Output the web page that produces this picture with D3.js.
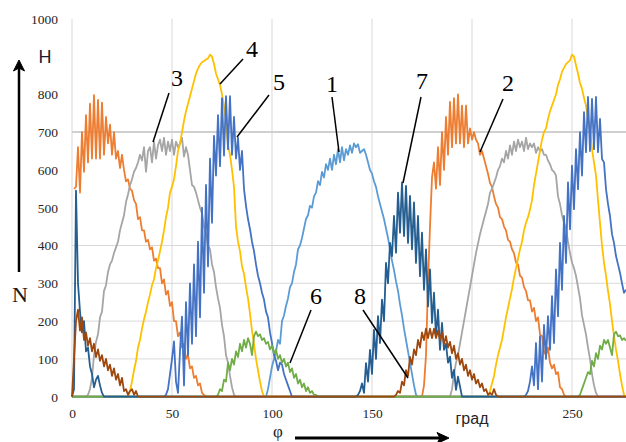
<!DOCTYPE html>
<html><head><meta charset="utf-8">
<script src="https://cdn.jsdelivr.net/npm/d3@7"></script>
<style>body{margin:0;background:#fff}svg{display:block}</style>
</head><body>
<svg id="c" width="626" height="442"></svg>
<script>
// ---------- data (x in degrees, each segment = [start degree, values at 1° steps]) ----------
const X_MAX = 277;
const yTicks = [0,100,200,300,400,500,600,700,800,1000];
const xTicks = [0,50,100,150,250];
const xUnitLabel = "град";
const seriesNames = ["1","2","3","4","5","6","7","8"];
const seriesColors = ["#5B9BD5","#ED7D31","#A5A5A5","#FFC000","#4472C4","#70AD47","#255E91","#9E480E"];

const s1 = [[97,[0,20,50,80,100,120,150,140,200,215,240,260,290,300,330,350,390,400,420,445,470,480,505,500,530,540,570,560,595,580,615,600,630,600,640,615,655,620,660,625,655,640,665,645,670,660,668,645,650,655,640,620,600,590,570,555,530,510,490,470,445,420,390,360,335,305,280,245,215,180,150,120,90,60,30,5,0]]];
const s2 = [[0,[null,550,555,660,540,700,595,745,620,775,630,798,630,785,630,778,640,740,670,720,640,700,630,650,605,640,600,570,575,550,545,520,510,470,475,440,440,410,415,390,395,360,365,340,340,300,310,270,280,240,250,200,200,160,170,130,140,100,110,75,80,50,55,30,35,10,5,0]],
            [175,[0,30,110,300,450,580,620,550,660,560,700,600,740,640,780,660,790,670,800,670,770,660,770,670,710,680,700,680,670,640,650,630,610,590,565,555,530,510,500,475,470,450,440,415,410,390,380,355,350,320,315,290,280,255,255,225,235,200,210,165,160,120,110,130,90,75,85,60,65,25,20,5,0]]];
const s3 = [[7,[0,5,20,50,110,145,165,210,225,280,295,330,350,360,380,395,410,440,460,480,515,535,560,575,595,605,620,640,625,660,595,650,660,620,675,630,665,680,650,685,640,675,650,680,640,675,660,670,685,635,660,640,600,560,555,540,520,500,485,450,430,400,390,350,330,290,260,235,190,160,110,90,55,25,5,0]],
            [189,[0,20,60,90,110,140,170,200,230,260,290,320,350,380,405,430,450,470,490,510,540,550,565,580,600,610,630,620,650,630,665,640,675,650,680,660,675,650,685,655,670,660,670,645,660,650,655,640,640,625,615,600,595,585,530,510,480,460,445,410,380,355,340,320,290,260,215,190,165,130,100,60,30,10,0]]];
const s4 = [[28,[0,15,40,70,95,130,150,180,205,225,250,270,295,310,340,360,385,410,440,475,500,540,555,575,610,650,670,700,730,755,775,795,815,835,855,868,878,885,888,892,895,905,900,880,855,840,825,800,770,730,665,640,600,555,450,410,385,345,325,290,260,220,175,140,100,70,40,15,0]],
            [208,[0,15,35,55,85,110,130,150,180,210,235,260,285,315,340,365,390,410,440,460,475,495,520,560,590,620,650,680,700,710,735,755,770,785,800,825,840,860,870,880,885,890,905,900,877,855,830,815,790,770,735,705,655,620,585,520,460,400,355,320,280,245,200,160,125,95,60,30,5,0]]];
const s5 = [[46,[0,5,20,60,100,146,40,10,120,212,30,250,110,300,140,350,160,410,210,500,275,560,345,630,460,690,585,745,610,790,638,795,655,795,640,740,630,685,600,650,550,505,470,443,410,385,350,320,300,275,257,225,210,170,142,110,95,70,90,85,60,45,30,15,0]],
            [226,[0,5,15,40,80,30,142,20,160,40,190,100,213,124,266,142,337,213,407,283,478,354,567,443,611,496,655,549,700,585,753,647,793,650,788,655,793,647,735,629,620,549,510,478,430,407,372,350,328,300,275,283]]];
const s6 = [[72,[0,5,20,15,45,40,90,70,100,85,120,105,140,120,150,130,155,140,110,160,172,160,165,150,155,140,145,125,135,115,125,100,110,90,100,80,90,65,75,50,60,35,45,25,35,15,25,10,15,5,5,0]],
            [253,[0,5,20,35,50,65,60,95,80,115,100,135,125,150,140,150,130,110,165,172,160,162,150,155,148]]];
const s7 = [[0,[0,20,545,300,225,170,200,120,130,80,60,25,45,55,30,10,0]],
            [142,[0,5,15,35,10,89,40,124,60,177,100,213,142,257,200,354,300,407,372,478,381,540,434,567,425,558,407,531,390,514,354,478,319,434,283,390,239,337,195,275,159,230,124,195,124,140,90,106,50,71,18,53,27,0]]];
const s8 = [[0,[0,100,200,230,175,210,150,170,135,155,120,140,105,125,95,110,80,100,70,85,55,75,45,60,30,50,15,20,5,15,20,5,15,0]],
            [161,[0,5,15,10,40,30,70,55,105,85,125,110,150,130,170,150,180,155,180,155,180,155,175,150,170,140,160,130,145,115,135,100,115,85,100,70,85,55,70,45,60,35,45,25,35,15,20,5,10,5,20,5,0]]];

// ---------- build full series (zero outside the humps) ----------
const degrees = d3.range(0, X_MAX + 1);
function build(segs){
  const arr = degrees.map(() => 0);
  segs.forEach(([st, vals]) => vals.forEach((v,i) => { if (st+i <= X_MAX) arr[st+i] = v; }));
  return arr.map((v,i) => ({x: i, v: v}));
}
const allSeries = [s1,s2,s3,s4,s5,s6,s7,s8].map(build);

// ---------- chart ----------
const svg = d3.select("#c");
const x = d3.scaleLinear().domain([0, X_MAX]).range([72, 626]);
const y = d3.scaleLinear().domain([0, 1000]).range([396.7, 18.7]);

// gridlines
const grid = svg.append("g");
[0,50,100,150,200,250].forEach(v => grid.append("line")
  .attr("x1", x(v)).attr("x2", x(v)).attr("y1", y(0)).attr("y2", y(1000))
  .attr("stroke", "#d9d9d9").attr("stroke-width", 1));
[100,200,300,400].forEach(v => grid.append("line")
  .attr("x1", x(0)).attr("x2", 626).attr("y1", y(v)).attr("y2", y(v))
  .attr("stroke", "#d9d9d9").attr("stroke-width", 1));
grid.append("line").attr("x1", x(0)).attr("x2", 626).attr("y1", y(700)).attr("y2", y(700))
  .attr("stroke", "#d0d0d0").attr("stroke-width", 2);

// axes (labels only)
const yAxis = svg.append("g").attr("transform", `translate(${x(0)},0)`)
  .call(d3.axisLeft(y).tickValues(yTicks).tickSize(0).tickPadding(14).tickFormat(d3.format("d")));
yAxis.select(".domain").remove();
yAxis.selectAll("text").attr("font-family", "'Liberation Serif', serif").attr("font-size", 13.5).attr("fill", "#262626");

const xAxis = svg.append("g").attr("transform", `translate(0,${y(0)})`)
  .call(d3.axisBottom(x).tickValues(xTicks).tickSize(0).tickPadding(12).tickFormat(d3.format("d")));
xAxis.select(".domain").remove();
xAxis.selectAll("text").attr("font-family", "'Liberation Serif', serif").attr("font-size", 13.5).attr("fill", "#262626");
svg.append("text").attr("x", x(200)).attr("y", 424).attr("text-anchor", "middle")
  .attr("font-family", "'Liberation Sans', Arial, sans-serif").attr("font-size", 16).attr("fill", "#262626").text(xUnitLabel);

// series lines
const line = d3.line().defined(d => d.v !== null).x(d => x(d.x)).y(d => y(d.v));
svg.append("g").selectAll("path").data(allSeries).join("path")
  .attr("d", line).attr("fill", "none")
  .attr("stroke", (d,i) => seriesColors[i]).attr("stroke-width", 1.8).attr("stroke-linejoin", "round");

// annotation labels with leader lines
const notes = [
  {t:"3", lx:177, ly:78, x1:169, y1:93, x2:153, y2:142},
  {t:"4", lx:252, ly:49, x1:243, y1:59, x2:220, y2:84},
  {t:"5", lx:279, ly:82, x1:269, y1:95, x2:237, y2:137},
  {t:"1", lx:332, ly:84, x1:332, y1:97, x2:339, y2:152},
  {t:"7", lx:422, ly:81, x1:421, y1:97, x2:403, y2:183},
  {t:"2", lx:508, ly:83, x1:503, y1:99, x2:480, y2:152},
  {t:"6", lx:316, ly:296, x1:311, y1:310, x2:290, y2:363},
  {t:"8", lx:360, ly:296, x1:363, y1:310, x2:408, y2:378}
];
const ann = svg.append("g");
notes.forEach(n => {
  ann.append("line").attr("x1", n.x1).attr("y1", n.y1).attr("x2", n.x2).attr("y2", n.y2)
    .attr("stroke", "#000").attr("stroke-width", 1.5);
  ann.append("text").attr("x", n.lx).attr("y", n.ly).attr("dy", "0.35em").attr("text-anchor", "middle")
    .attr("font-family", "'Liberation Serif', 'Times New Roman', serif").attr("font-size", 24).attr("fill", "#000").text(n.t);
});

// axis titles and arrows
svg.append("text").attr("x", 45).attr("y", y(900)).attr("dy", "0.35em").attr("text-anchor", "middle")
  .attr("font-family", "'Liberation Sans', Arial, sans-serif").attr("font-size", 18).attr("fill", "#1a1a33").text("H");
svg.append("text").attr("x", 20).attr("y", 294).attr("dy", "0.35em").attr("text-anchor", "middle")
  .attr("font-family", "'Liberation Serif', 'Times New Roman', serif").attr("font-size", 22).attr("fill", "#1a1a1a").text("N");
svg.append("text").attr("x", 278).attr("y", 431).attr("dy", "0.35em").attr("text-anchor", "middle")
  .attr("font-family", "'Liberation Serif', 'Times New Roman', serif").attr("font-size", 17).attr("fill", "#1a1a1a").text("φ");

svg.append("line").attr("x1", 19).attr("y1", 272).attr("x2", 19).attr("y2", 68).attr("stroke", "#000").attr("stroke-width", 2.5);
svg.append("path").attr("d", "M19,60 L13.5,71 L19,68 L24.5,71 Z").attr("fill", "#000").attr("stroke", "#000").attr("stroke-width", 1);
svg.append("line").attr("x1", 295).attr("y1", 438).attr("x2", 440).attr("y2", 438).attr("stroke", "#000").attr("stroke-width", 3);
svg.append("path").attr("d", "M449,438 L437,432.5 L440,438 L437,443.5 Z").attr("fill", "#000").attr("stroke", "#000").attr("stroke-width", 1);
</script>
</body></html>
